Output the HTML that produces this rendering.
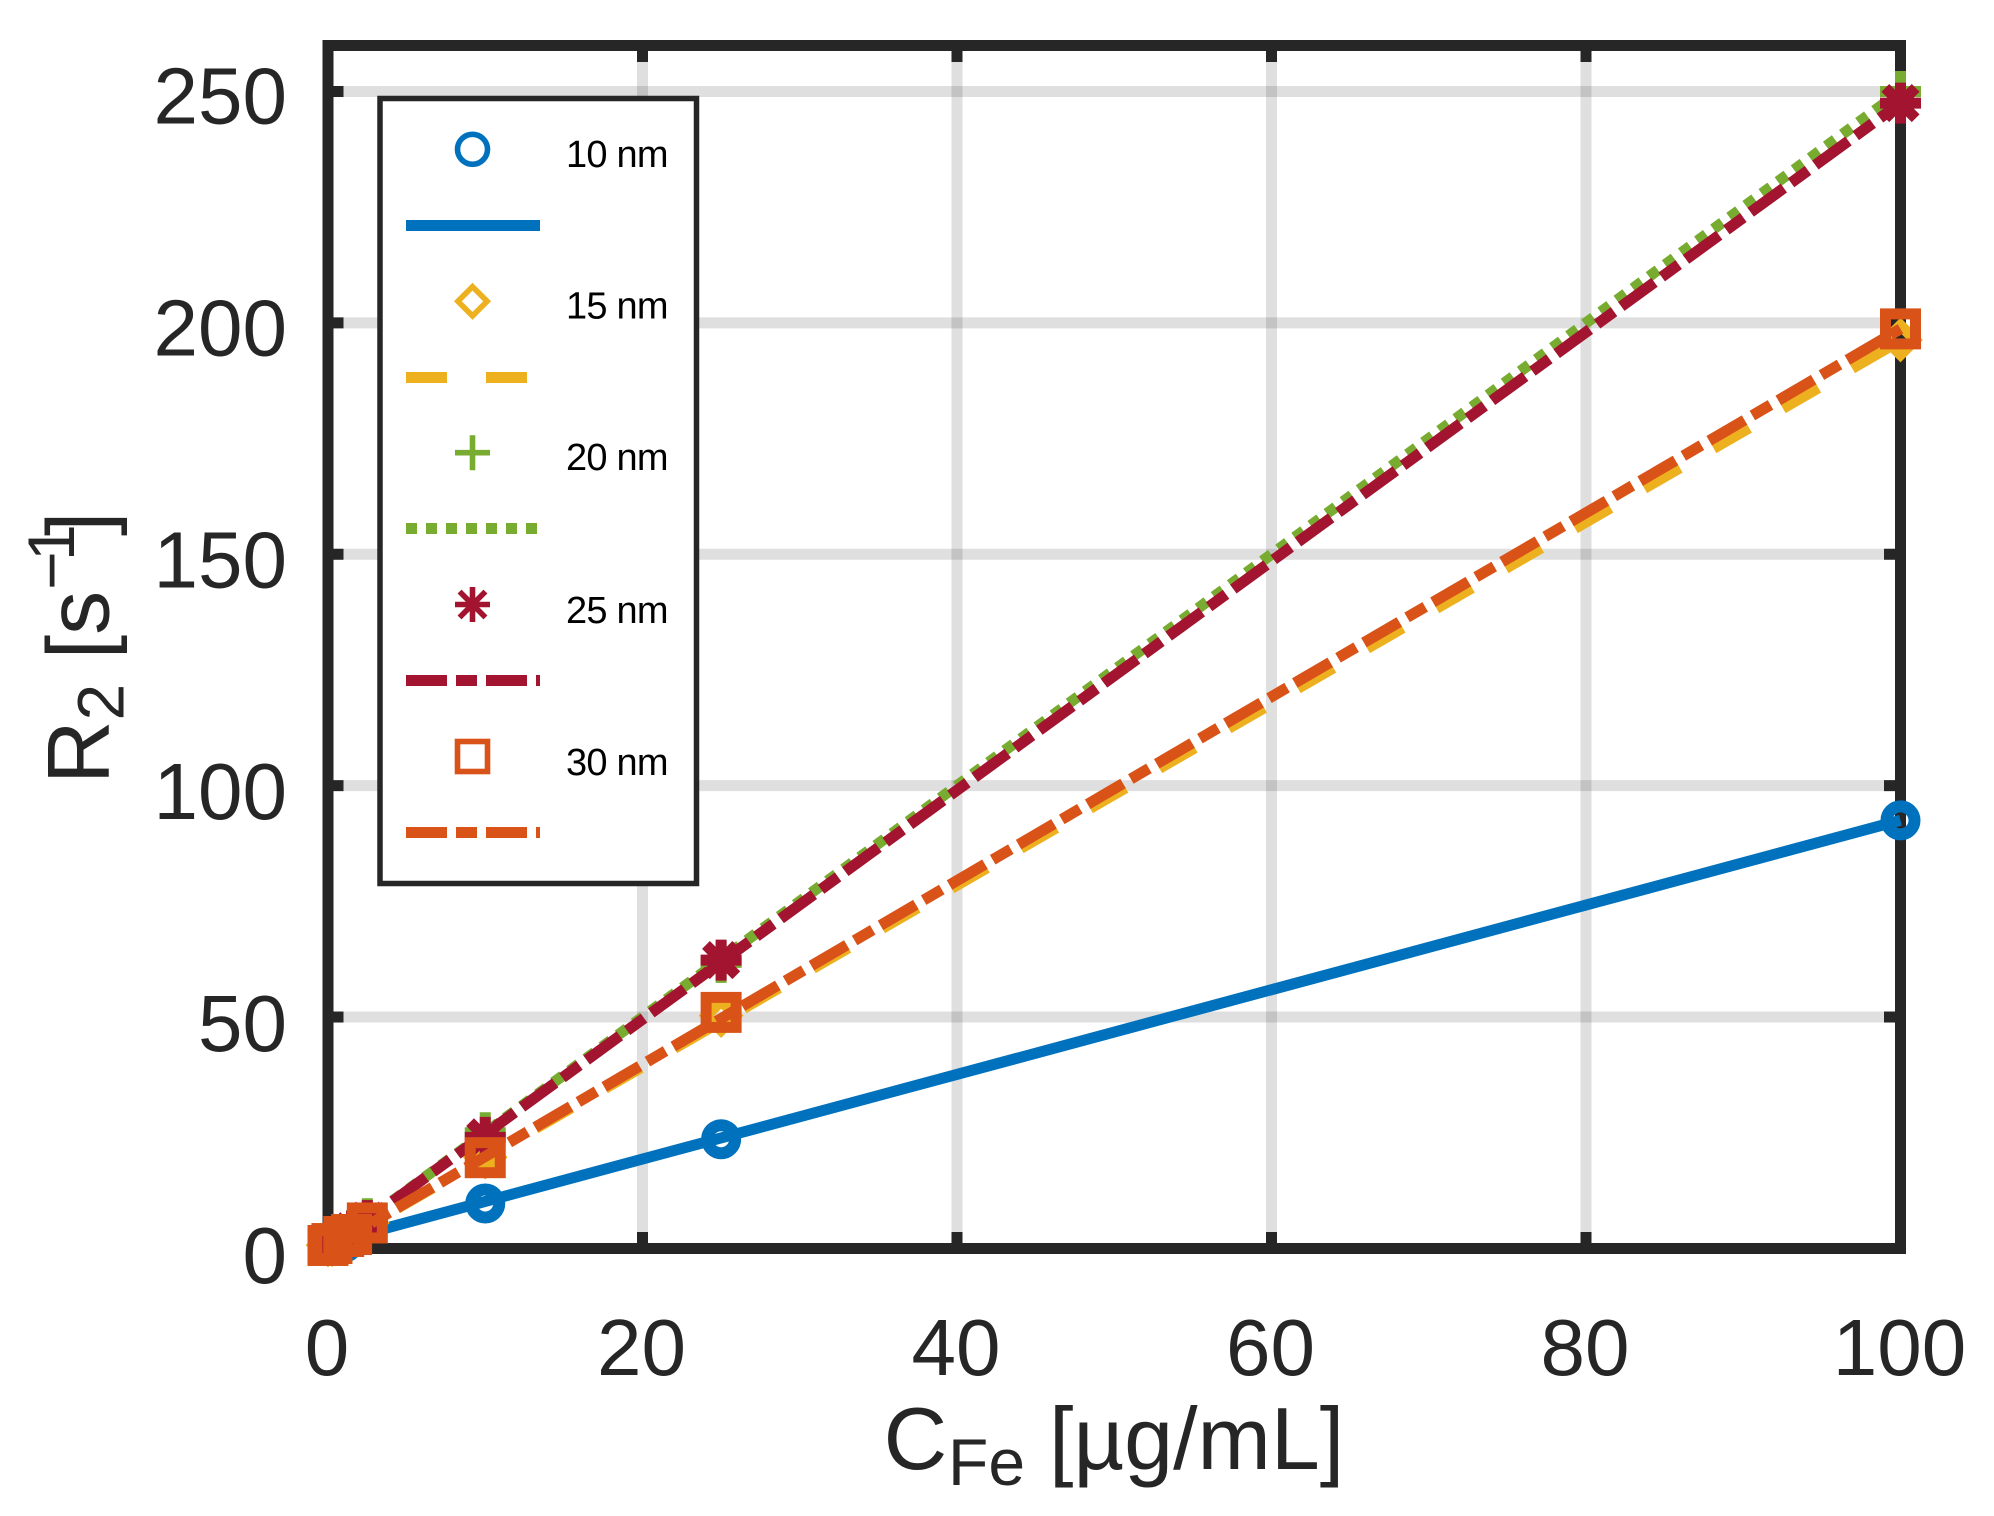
<!DOCTYPE html>
<html lang="en">
<head>
<meta charset="utf-8">
<title>R2 vs CFe</title>
<style>
html,body{margin:0;padding:0;background:#fff;}
svg{display:block;font-family:"Liberation Sans",Arial,sans-serif;}
</style>
</head>
<body>
<svg id="chart" xmlns="http://www.w3.org/2000/svg" width="1994" height="1516" viewBox="0 0 1994 1516">
  <rect x="0" y="0" width="1994" height="1516" fill="#ffffff"/>
  <g id="grid"></g>
  <rect x="328" y="45.5" width="1572.5" height="1203" fill="none" stroke="#262626" stroke-width="11"/>
  <g id="ticks"></g>
  <g id="tick-labels" font-size="80" fill="#262626"></g>
  <g id="series"></g>

  <g fill="#262626">
    <text x="883.6" y="1469" font-size="88">C</text>
    <text x="948" y="1485" font-size="66">Fe</text>
    <text x="1049" y="1469" font-size="88">[µg/mL]</text>
  </g>
  <g fill="#262626">
    <text transform="translate(108.3,784) rotate(-90)" font-size="88">R</text>
    <text transform="translate(123.3,720.5) rotate(-90)" font-size="66">2</text>
    <text transform="translate(108.3,659.3) rotate(-90)" font-size="88">[s</text>
    <text transform="translate(74,590) rotate(-90)" font-size="66">−</text>
    <text transform="translate(74,561) rotate(-90)" font-size="66">1</text>
    <text transform="translate(108.3,536) rotate(-90)" font-size="88">]</text>
  </g>

  <g id="legend">
    <rect x="380" y="98.5" width="316.5" height="785" fill="#ffffff" stroke="#262626" stroke-width="5.5"/>
  </g>
</svg>
<script>
// Chart data
const xTicks = [0, 20, 40, 60, 80, 100];
const yTicks = [0, 50, 100, 150, 200, 250];
const markerX = [0, 0.25, 1, 1.5, 2.5, 10, 25, 100];
const marker10 = [0.6, 0.8, 1.2, null, null, 9.7, 23.6, 92.5];
const marker15 = [0.7, 0.8, 2.1, 3.1, 5.5, 19.7, 50.3, 196.3];
const marker20 = [0.8, 0.9, 2.6, 3.8, 6.4, 25.0, 61.8, 250.0];
const marker25 = [0.8, 0.9, 2.6, 3.7, 6.0, 24.0, 62.3, 247.5];
const marker30 = [0.63, 1.05, 2.57, 3.0, 5.5, 19.6, 51.0, 198.7];
const fitX = [0, 100];
const fit10 = [1, 92.5];
const fit15 = [0, 196.2];
const fit20 = [0, 250];
const fit25 = [0, 247.5];
const fit30 = [0, 198.7];
const seriesLabels = ['10 nm', '15 nm', '20 nm', '25 nm', '30 nm'];

const NS = 'http://www.w3.org/2000/svg';
function sx(v) { return 328 + v * 15.725; }
function sy(v) { return 1248.4 - v * 4.6276; }
function make(parent, tag, attrs) {
  const el = document.createElementNS(NS, tag);
  for (const k in attrs) el.setAttribute(k, attrs[k]);
  parent.appendChild(el);
  return el;
}

const styles = [
  { key: '10', color: '#0072BD', shape: 'circle', dash: 'none', mx: marker10, fit: fit10 },
  { key: '15', color: '#EDB120', shape: 'diamond', dash: '41 39', mx: marker15, fit: fit15 },
  { key: '20', color: '#77AC30', shape: 'plus', dash: '11 9', mx: marker20, fit: fit20 },
  { key: '25', color: '#A2142F', shape: 'asterisk', dash: '41 9 21 9', mx: marker25, fit: fit25 },
  { key: '30', color: '#D95319', shape: 'square', dash: '41 9 21 9', mx: marker30, fit: fit30 }
];

// Marker shape drawing; the legend uses a thinner stroke than the plot
function drawMarker(parent, shape, cx, cy, color, sw) {
  const base = { fill: 'none', stroke: color, 'stroke-width': sw };
  let el;
  if (shape === 'circle') {
    const big = sw > 8;
    el = make(parent, 'circle', Object.assign({ cx: cx, cy: cy, r: big ? 14 : 15 }, base, { 'stroke-width': big ? 12 : sw }));
  } else if (shape === 'square') {
    el = make(parent, 'rect', Object.assign({ x: cx - 15, y: cy - 15, width: 30, height: 30 }, base));
  } else if (shape === 'diamond') {
    const h = 14.6;
    el = make(parent, 'polygon', Object.assign({
      points: cx + ',' + (cy - h) + ' ' + (cx + h) + ',' + cy + ' ' + cx + ',' + (cy + h) + ' ' + (cx - h) + ',' + cy,
      'stroke-miterlimit': 10
    }, base));
  } else {
    const r = sw > 8 ? 20.5 : 17.5;
    let d = 'M' + (cx - r) + ' ' + cy + 'H' + (cx + r) + 'M' + cx + ' ' + (cy - r) + 'V' + (cy + r);
    if (shape === 'asterisk') {
      const q = r * 0.74;
      d += 'M' + (cx - q) + ' ' + (cy - q) + 'L' + (cx + q) + ' ' + (cy + q);
      d += 'M' + (cx - q) + ' ' + (cy + q) + 'L' + (cx + q) + ' ' + (cy - q);
    }
    el = make(parent, 'path', Object.assign({ d: d }, base));
  }
  return el;
}

const gridG = document.getElementById('grid');
const ticksG = document.getElementById('ticks');
const labelsG = document.getElementById('tick-labels');

xTicks.forEach(function (v) {
  const x = sx(v);
  if (v > 0 && v < 100) {
    const g = make(gridG, 'line', { x1: x, x2: x, y1: 51, y2: 1243, stroke: '#262626', 'stroke-opacity': 0.15, 'stroke-width': 11 });
    
    
    const t1 = make(ticksG, 'line', { x1: x, x2: x, y1: 1248, y2: 1232, stroke: '#262626', 'stroke-width': 11 });
    
    
    const t2 = make(ticksG, 'line', { x1: x, x2: x, y1: 46, y2: 62, stroke: '#262626', 'stroke-width': 11 });
    
    
  }
  const lab = make(labelsG, 'text', { x: x - 1, y: 1375, 'text-anchor': 'middle' });
  lab.textContent = String(v);
  
  
});

yTicks.forEach(function (v) {
  const y = sy(v);
  if (v > 0) {
    const g = make(gridG, 'line', { x1: 333, x2: 1895, y1: y, y2: y, stroke: '#262626', 'stroke-opacity': 0.15, 'stroke-width': 11 });
    
    
    const t1 = make(ticksG, 'line', { x1: 328, x2: 343.5, y1: y, y2: y, stroke: '#262626', 'stroke-width': 11 });
    
    
    const t2 = make(ticksG, 'line', { x1: 1884, x2: 1900, y1: y, y2: y, stroke: '#262626', 'stroke-width': 11 });
    
    
  }
  const lab = make(labelsG, 'text', { x: 287, y: y + 34.6 - v * 0.01, 'text-anchor': 'end' });
  lab.textContent = String(v);
  
  
});

const seriesG = document.getElementById('series');
styles.forEach(function (s) {
  const group = make(seriesG, 'g', {});
  
  
  markerX.forEach(function (xv, i) {
    if (s.mx[i] === null) return;
    const m = drawMarker(group, s.shape, sx(xv), sy(s.mx[i]), s.color, 11);
    
    
  });
  const pts = fitX.map(function (xv, i) { return sx(xv) + ',' + sy(s.fit[i]); }).join(' ');
  const line = make(group, 'polyline', { points: pts, fill: 'none', stroke: s.color, 'stroke-width': 11, 'stroke-dasharray': s.dash });
  
  
});

const legendG = document.getElementById('legend');
const legendMarkerY = [149.3, 301.3, 452.7, 604.5, 756.5];
const legendLineY = [225.5, 377.5, 528.5, 680.5, 832.5];
const legendTextY = [167, 318.5, 470, 623, 775];
styles.forEach(function (s, i) {
  const m = drawMarker(legendG, s.shape, 472.5, legendMarkerY[i], s.color, 5.6);
  
  
  const l = make(legendG, 'line', { x1: 406, x2: 540, y1: legendLineY[i], y2: legendLineY[i], stroke: s.color, 'stroke-width': 11, 'stroke-dasharray': s.dash });
  
  
  const t = make(legendG, 'text', { x: 566, y: legendTextY[i], 'font-size': 38, fill: '#000000', textLength: 102.5, lengthAdjust: 'spacing' });
  t.textContent = seriesLabels[i];
  
  
});
</script>
</body>
</html>
